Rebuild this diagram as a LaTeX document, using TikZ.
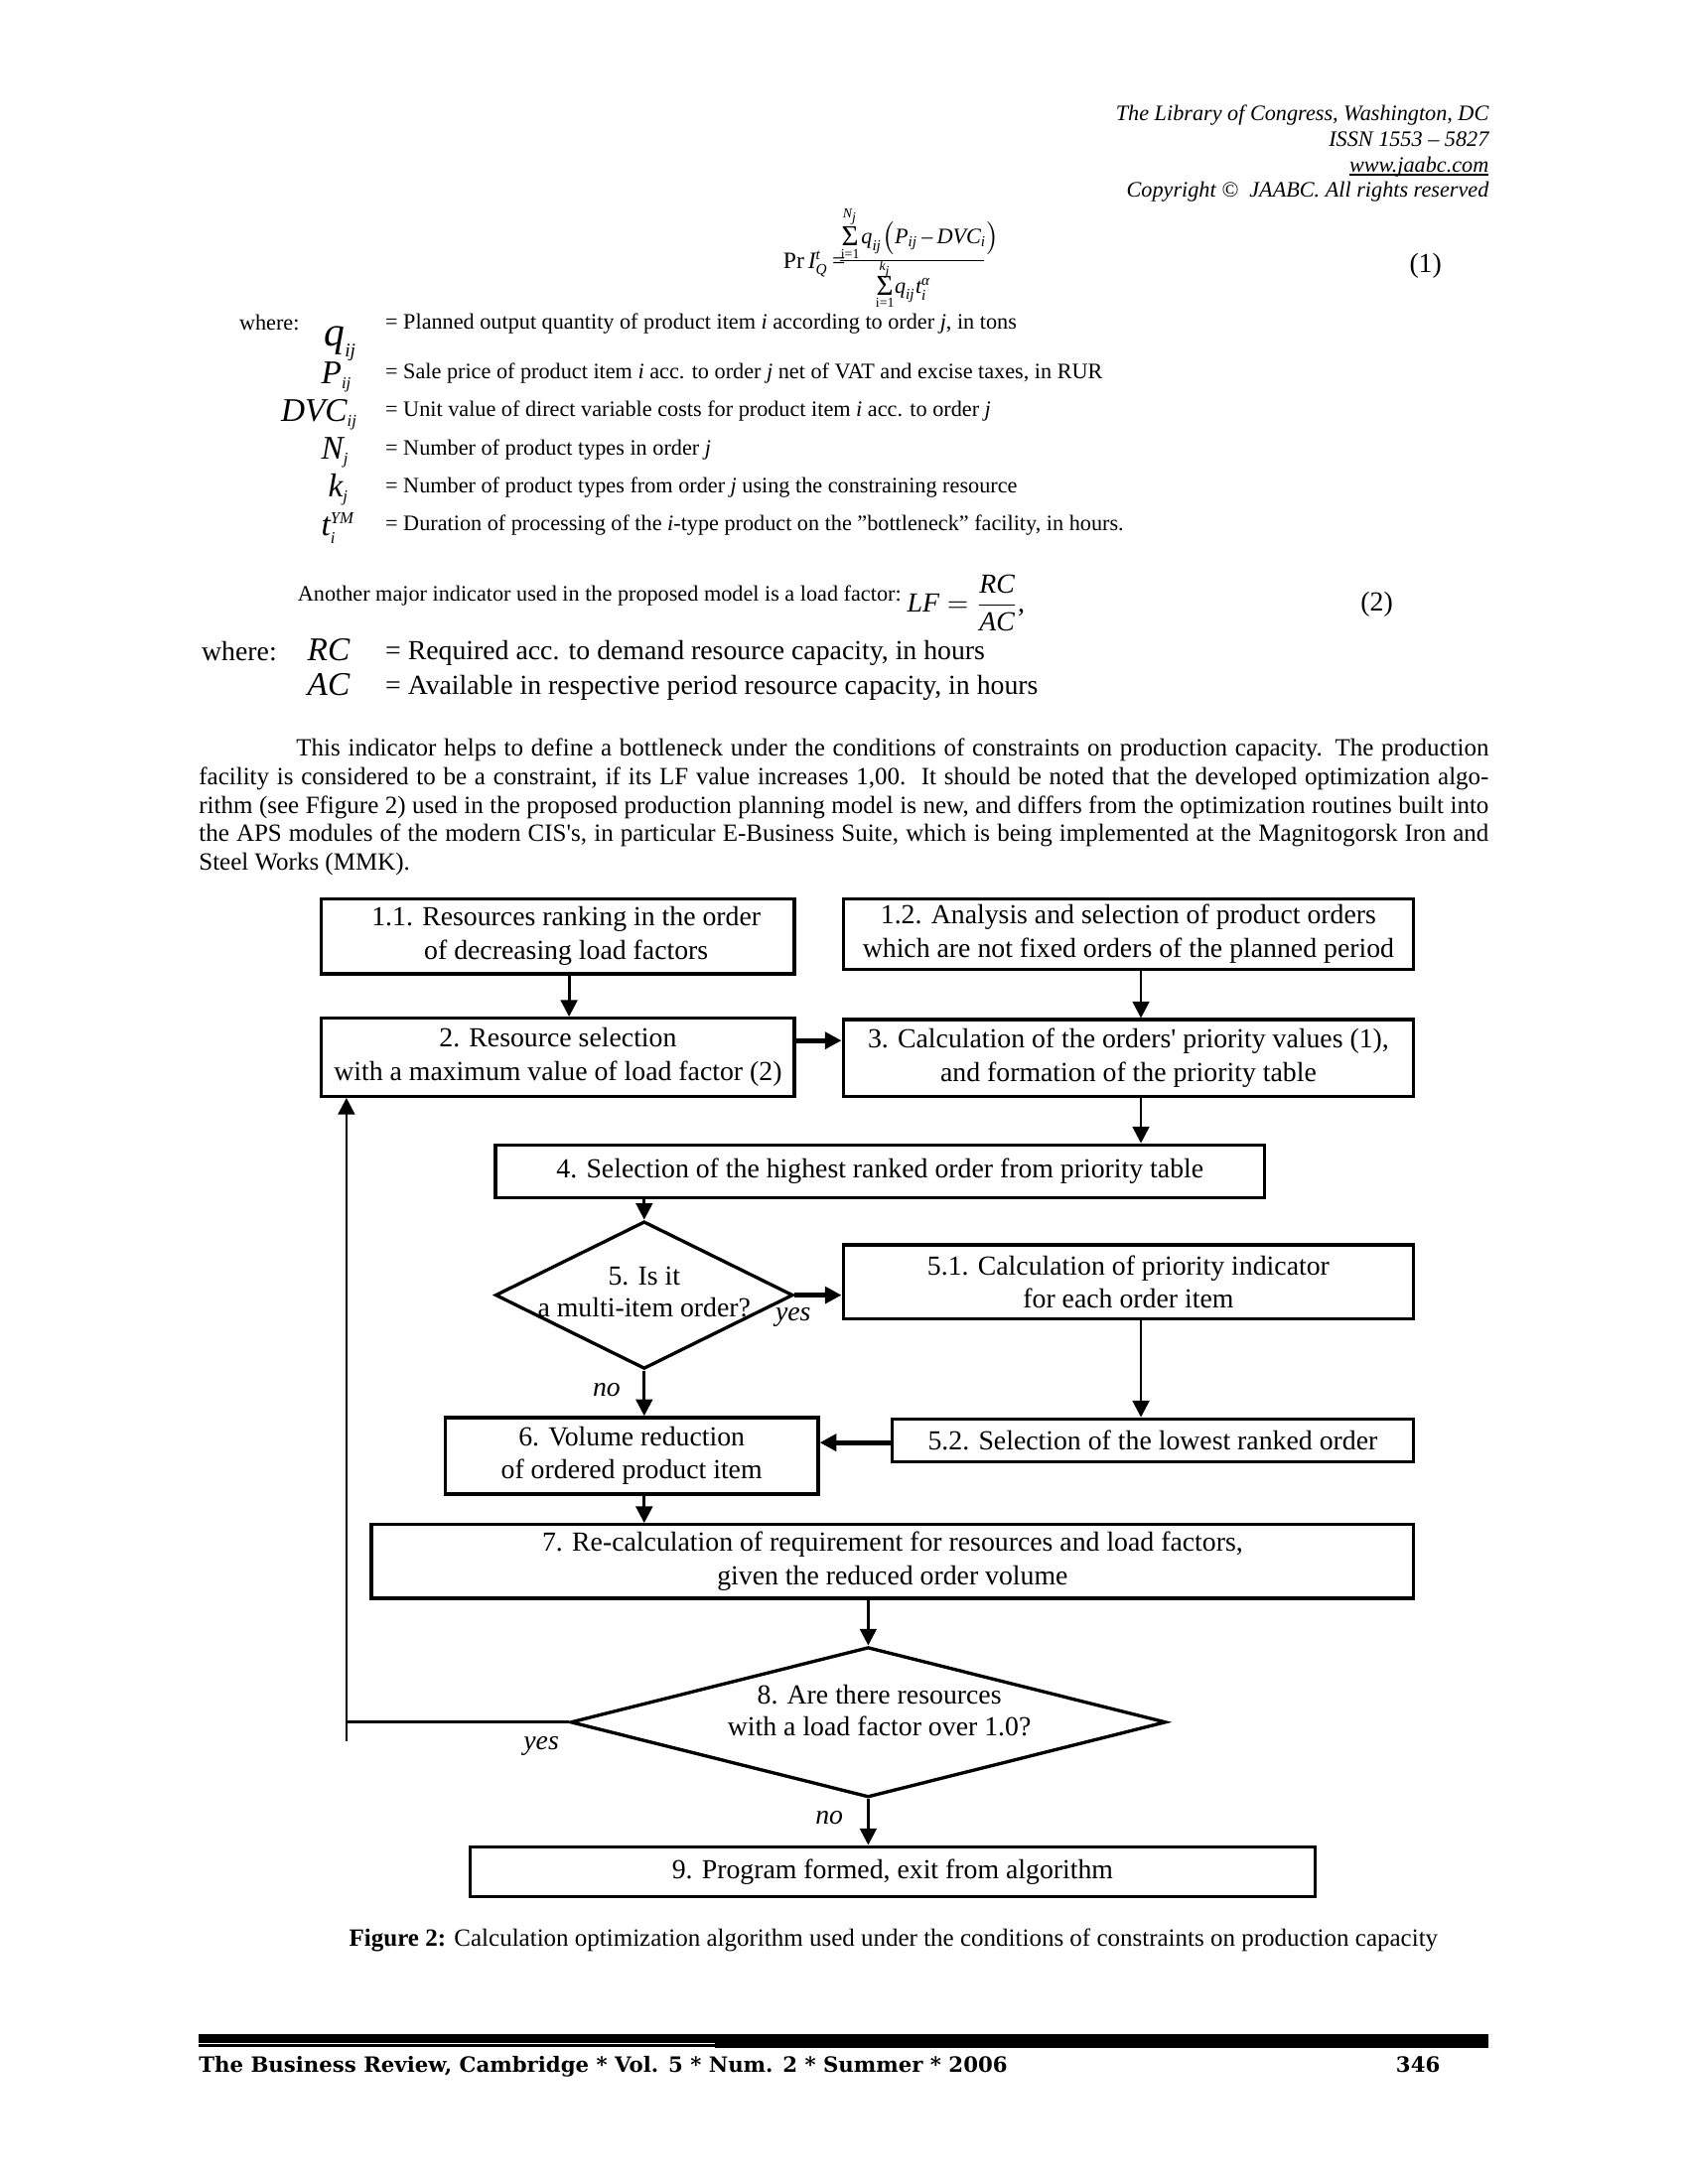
\documentclass[tikz,border=0pt]{standalone}
\usepackage{fontspec}
\setmainfont{Liberation Serif}
\newfontfamily\ftrfont{DejaVu Serif}
\usetikzlibrary{arrows.meta,shapes.geometric}
\newdimen\ULd \ULd=0.50453pt
\newcommand\fsz[2]{\fontsize{#1}{#2}\selectfont}
\newcommand\vi[1]{\hbox{\itshape #1}}
\newcommand\vsz[2]{\hbox{\fontsize{#1}{#1}\selectfont\itshape #2}}
\newcommand\vup[2]{\hbox{\fontsize{#1}{#1}\selectfont #2}}
\begin{document}
\begin{tikzpicture}[x=\ULd,y=-\ULd,
  every node/.style={inner sep=0pt,outer sep=0pt},
  box/.style={draw,line width=1.2pt,inner sep=0pt,outer sep=0.6pt,align=center,font=\fsz{10}{12.1}},
  box2/.style={box,execute at begin node={\rule{0pt}{9.4pt}}},
  dia/.style={draw,diamond,line width=1.2pt,inner sep=0pt,outer sep=0.6pt},
  arr/.style={line width=1pt,-{Triangle[length=6pt,width=6pt]}},
  tarr/.style={line width=1.8pt,-{Triangle[length=6pt,width=6pt]}},
  plain/.style={line width=1pt},
  lbl/.style={font=\fsz{10}{12}\itshape},
  hdr/.style={font=\fsz{8}{9}\itshape,anchor=base east},
  small/.style={font=\fsz{8}{9},anchor=base west},
  mid/.style={font=\fsz{10}{12},anchor=base west},
  body/.style={font=\fsz{9}{10.3},anchor=base west},
  sig/.style={font=\fsz{10.5}{10.5},anchor=base},
  lim/.style={font=\fsz{5}{5}},
  dtext/.style={font=\fsz{10}{11.6},align=center}]
\useasboundingbox (0,0) rectangle (1213,1570);
\fill[white] (0,0) rectangle (1213,1570);

% header
\node[hdr] (h1) at (1070,87) {The Library of Congress, Washington, DC};
\node[hdr] (h2) at (1070,105) {ISSN 1553 -- 5827};
\node[hdr] (h3) at (1070,123.5) {www.jaabc.com};
\draw[line width=0.45pt] ([yshift=-1.1pt]h3.base west) -- ([yshift=-1.1pt]h3.base east);
\node[hdr] (h4) at (1070,142) {Copyright ©\ \ JAABC. All rights reserved};

% formula 1
\node[anchor=base west] (f1) at (563,193) {\fsz{8.5}{9}Pr\,$\vi{I}^{\vsz{5.5}{t}}_{\vsz{5.5}{Q}}$\,=};
\node[sig] (s1) at (611,176.5) {Σ};
\node[lim] (s1u) at (611,156) {\itshape N\textsubscript{j}};
\node[lim] (s1l) at (611,182.5) {i=1};
\node[anchor=base west] (f1n) at (619,175.5) {\fsz{8}{9}$\vi{q}_{\vsz{5.5}{ij}}\bigl(\vi{P}_{\vsz{5.5}{ij}}\,\hbox{–}\,\vi{DVC}_{\vsz{5.5}{i}}\bigr)$};
\draw[line width=0.5pt] (604,187.5) -- (707,187.5);
\node[lim] (s2u) at (636,194) {\itshape k\textsubscript{j}};
\node[sig] (s2) at (636,212) {Σ};
\node[lim] (s2l) at (636,217.5) {i=1};
\node[anchor=base west] (f1d) at (643,211) {\fsz{8}{9}$\vi{q}_{\vsz{5.5}{ij}}\vi{t}^{\vsz{5.5}{α}}_{\vsz{5.5}{i}}$};
\node[mid] (n1) at (1013,196) {(1)};

% where list 1
\node[small] (wh1) at (172,237.5) {where:};
\node[anchor=base west] (vq) at (233,249) {\fsz{15}{15}$\vi{q}_{\vsz{7}{ij}}$};
\node[anchor=base west] (vp) at (231,276) {\fsz{12}{12}$\vi{P}_{\vsz{6}{ij}}$};
\node[anchor=base west] (vd) at (202,303) {\fsz{12}{12}$\vi{DVC}_{\vsz{6}{ij}}$};
\node[anchor=base west] (vn) at (231,330) {\fsz{12}{12}$\vi{N}_{\vsz{6}{j}}$};
\node[anchor=base west] (vk) at (236,357) {\fsz{12}{12}$\vi{k}_{\vsz{6}{j}}$};
\node[anchor=base west] (vt) at (231,385) {\fsz{12}{12}$\vi{t}^{\vsz{6}{YM}}_{\vsz{6}{i}}$};
\node[small] (w1) at (277,236.5) {= Planned output quantity of product item \textit{i} according to order \textit{j}, in tons};
\node[small] (w2) at (277,272.5) {= Sale price of product item \textit{i} acc. to order \textit{j} net of VAT and excise taxes, in RUR};
\node[small] (w3) at (277,299.5) {= Unit value of direct variable costs for product item \textit{i} acc. to order \textit{j}};
\node[small] (w4) at (277,327.5) {= Number of product types in order \textit{j}};
\node[small] (w5) at (277,354.5) {= Number of product types from order \textit{j} using the constraining resource};
\node[small] (w6) at (277,381.5) {= Duration of processing of the \textit{i}-type product on the "bottleneck" facility, in hours.};

% formula 2
\node[small] (an) at (214,432) {Another major indicator used in the proposed model is a load factor:};
\node[anchor=base west] (f2) at (652,440) {\fsz{10}{12}$\vi{LF}=\displaystyle\frac{\vi{RC}}{\vi{AC}}$,};
\node[mid] (n2) at (978,439) {(2)};
\node[mid] (wh2) at (145,475) {where:};
\node[anchor=base west] (vrc) at (221,475) {\fsz{12}{12}\itshape RC};
\node[anchor=base west] (vac) at (221,500) {\fsz{12}{12}\itshape AC};
\node[mid] (r1) at (277,474) {= Required acc. to demand resource capacity, in hours};
\node[mid] (r2) at (277,499) {= Available in respective period resource capacity, in hours};

% paragraph
\node[body] (p1) at (213,543.5) {\hbox to 857\ULd{This indicator helps to define a bottleneck under the conditions of constraints on production capacity. The production}};
\node[body] (p2) at (143,564) {\hbox to 927\ULd{facility is considered to be a constraint, if its LF value increases 1,00.\ \ It should be noted that the developed optimization algo-}};
\node[body] (p3) at (143,584.5) {\hbox to 927\ULd{rithm (see Ffigure 2) used in the proposed production planning model is new, and differs from the optimization routines built into}};
\node[body] (p4) at (143,605) {\hbox to 927\ULd{the APS modules of the modern CIS\textquotesingle s, in particular E-Business Suite, which is being implemented at the Magnitogorsk Iron and}};
\node[body] (p5) at (143,625.5) {Steel Works (MMK).};

% flowchart boxes
\node[box2,minimum width=340*\ULd,minimum height=54*\ULd] (b11) at (401,673) {\hspace*{6pt}1.1. Resources ranking in the order\\\hspace*{6pt}of decreasing load factors};
\node[box2,minimum width=410*\ULd,minimum height=51*\ULd] (b12) at (811,671.5) {1.2. Analysis and selection of product orders\\which are not fixed orders of the planned period};
\node[box2,minimum width=340*\ULd,minimum height=56*\ULd] (b2) at (401,760) {2. Resource selection\\with a maximum value of load factor (2)};
\node[box2,minimum width=410*\ULd,minimum height=55*\ULd] (b3) at (811,760.5) {3. Calculation of the orders\textquotesingle{} priority values (1),\\and formation of the priority table};
\node[box,minimum width=553*\ULd,minimum height=38*\ULd] (b4) at (632.5,842) {4. Selection of the highest ranked order from priority table};
\node[dia,minimum width=214*\ULd,minimum height=106*\ULd] (d5) at (463,931) {};
\node[dtext] (t5) at (463,929) {5. Is it\\a multi-item order?};
\node[box2,minimum width=410*\ULd,minimum height=53*\ULd] (b51) at (811,921.5) {5.1. Calculation of priority indicator\\for each order item};
\node[box,minimum width=375*\ULd,minimum height=31*\ULd] (b52) at (828.5,1035.5) {5.2. Selection of the lowest ranked order};
\node[box2,minimum width=268*\ULd,minimum height=55*\ULd] (b6) at (454,1046.5) {6. Volume reduction\\of ordered product item};
\node[box2,minimum width=749*\ULd,minimum height=53*\ULd] (b7) at (641.5,1122.5) {7. Re-calculation of requirement for resources and load factors,\\given the reduced order volume};
\node[dia,minimum width=428*\ULd,minimum height=108*\ULd] (d8) at (624,1238) {};
\node[dtext] (t8) at (632,1229.5) {8. Are there resources\\with a load factor over 1.0?};
\node[box,minimum width=607*\ULd,minimum height=36*\ULd] (b9) at (641.5,1345.5) {9. Program formed, exit from algorithm};

% helper coordinates
\coordinate (cx1) at (409,0);
\coordinate (cx2) at (820,0);
\coordinate (cy23) at (0,748);
\coordinate (cy526) at (0,1037);
\coordinate (cL) at (249,0);
\coordinate (cLb) at (249,1252);

% connectors
\draw[arr] (b11.south -| cx1) -- (b2.north -| cx1);
\draw[arr] (b12.south -| cx2) -- (b3.north -| cx2);
\draw[tarr] (b2.east |- cy23) -- (b3.west |- cy23);
\draw[arr] (b3.south -| cx2) -- (b4.north -| cx2);
\draw[arr] (b4.south -| d5.north) -- (d5.north);
\draw[tarr] (d5.east) -- (d5.east -| b51.west);
\draw[arr] (b51.south -| cx2) -- (b52.north -| cx2);
\draw[tarr] (b52.west |- cy526) -- (b6.east |- cy526);
\draw[arr] (d5.south) -- (d5.south |- b6.north);
\draw[arr] (b6.south -| d5.south) -- (b7.north -| d5.south);
\draw[arr] (b7.south -| d8.north) -- (d8.north);
\draw[arr] (d8.south) -- (d8.south |- b9.north);
\draw[arr] (d8.west) -- (d8.west -| cL) -- (b2.south -| cL);
\draw[plain] (d8.west -| cL) -- (cLb);

% labels
\node[lbl] (ly5) at (570,947) {yes};
\node[lbl] (ln5) at (436,999) {no};
\node[lbl] (ly8) at (389,1255) {yes};
\node[lbl] (ln8) at (596,1307) {no};

% caption
\node[body] (cap) at (251,1399) {\textbf{Figure 2:} Calculation optimization algorithm used under the conditions of constraints on production capacity};

% footer
\fill[black] (143,1462) rectangle (1070,1468.7);
\fill[black] (143,1469.7) rectangle (514,1471.3);
\fill[black] (514,1468.7) rectangle (1070,1472);
\node[anchor=base west,font=\ftrfont\bfseries\fsz{7.65}{9}] (ft) at (143,1490) {The Business Review, Cambridge * Vol. 5 * Num. 2 * Summer * 2006};
\node[anchor=base east,font=\ftrfont\bfseries\fsz{7.65}{9}] (pg) at (1035,1490) {346};
\end{tikzpicture}
\end{document}
